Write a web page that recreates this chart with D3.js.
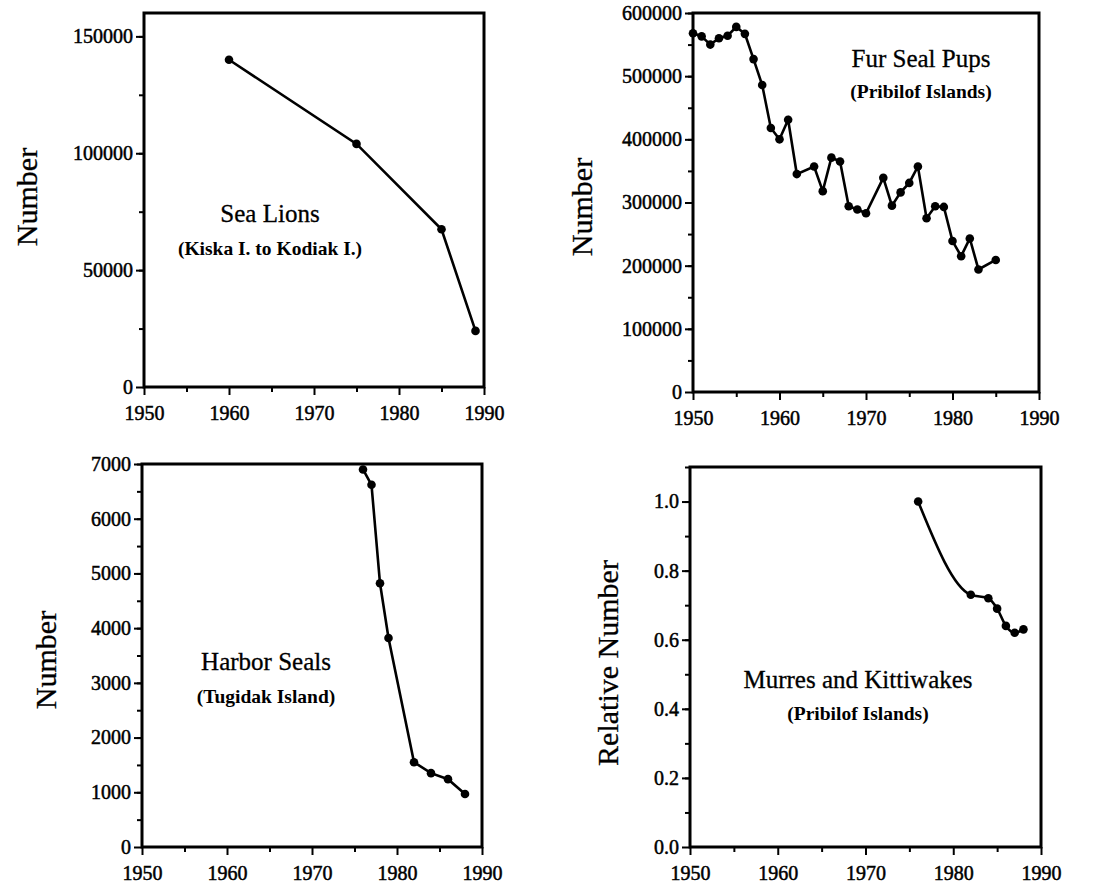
<html>
<head>
<meta charset="utf-8">
<title>Alaska populations</title>
<style>
  body { margin: 0; background: #fff; }
  svg text { font-family: "Liberation Serif", "Times New Roman", serif; fill: #000; }
</style>
</head>
<body>
<script src="https://d3js.org/d3.v7.min.js"></script>
<script>
// ---- data ----
var yearTicks = [1950, 1960, 1970, 1980, 1990];
var minorYears = [1955, 1965, 1975, 1985];

var seaLionYears = [1960, 1975, 1985, 1989];
var seaLionCounts = [140000, 104000, 67500, 24000];

var furSealYears = [1950, 1951, 1952, 1953, 1954, 1955, 1956, 1957, 1958, 1959, 1960, 1961, 1962,
                    1964, 1965, 1966, 1967, 1968, 1969, 1970, 1972, 1973, 1974, 1975, 1976,
                    1977, 1978, 1979, 1980, 1981, 1982, 1983, 1985];
var furSealPups = [568000, 563000, 550000, 560000, 564000, 578000, 567000, 527000, 486000, 418000, 400000, 431000, 345000,
                   357000, 318000, 371000, 365000, 294000, 289000, 283000, 339000, 295000, 316000, 331000, 357000,
                   275000, 294000, 293000, 239000, 215000, 243000, 194000, 209000];

var harborYears = [1976, 1977, 1978, 1979, 1982, 1984, 1986, 1988];
var harborCounts = [6900, 6620, 4820, 3820, 1550, 1350, 1240, 970];

var murreYears = [1976, 1982, 1984, 1985, 1986, 1987, 1988];
var murreRelative = [1.0, 0.73, 0.72, 0.69, 0.64, 0.62, 0.63];

var seaLionTicks = [0, 50000, 100000, 150000];
var furSealTicks = [0, 100000, 200000, 300000, 400000, 500000, 600000];
var harborTicks = [0, 1000, 2000, 3000, 4000, 5000, 6000, 7000];
var murreTicks = [0, 0.2, 0.4, 0.6, 0.8, 1.0];

var width = 1095, height = 888;
var svg = d3.select('body').append('svg').attr('width', width).attr('height', height);

var panels = [
  {years: seaLionYears, values: seaLionCounts, yMax: 160000, ticks: seaLionTicks, minor: 25000, fmt: 'd',
   left: 144, right: 484, top: 13, bottom: 387,
   title: 'Sea Lions', sub: '(Kiska I. to Kodiak I.)', tx: 270, ty: 222, sy: 255,
   ylabel: 'Number', lx: 26, ly: 197, curve: d3.curveLinear},
  {years: furSealYears, values: furSealPups, yMax: 600000, ticks: furSealTicks, minor: 50000, fmt: 'd',
   left: 693, right: 1039, top: 13, bottom: 392,
   title: 'Fur Seal Pups', sub: '(Pribilof Islands)', tx: 921, ty: 67, sy: 98,
   ylabel: 'Number', lx: 581, ly: 207, curve: d3.curveLinear},
  {years: harborYears, values: harborCounts, yMax: 7000, ticks: harborTicks, minor: 500, fmt: 'd',
   left: 142, right: 482, top: 464, bottom: 847,
   title: 'Harbor Seals', sub: '(Tugidak Island)', tx: 266, ty: 670, sy: 703,
   ylabel: 'Number', lx: 45, ly: 660, curve: d3.curveLinear},
  {years: murreYears, values: murreRelative, yMax: 1.1, ticks: murreTicks, minor: 0.1, fmt: '.1f',
   left: 690, right: 1041, top: 467, bottom: 847,
   title: 'Murres and Kittiwakes', sub: '(Pribilof Islands)', tx: 858, ty: 688, sy: 720,
   ylabel: 'Relative Number', lx: 607, ly: 663, curve: d3.curveMonotoneX}
];

function styleAxis(g) {
  g.select('.domain').remove();
  g.selectAll('line').attr('stroke', '#000').attr('stroke-width', 2);
  g.attr('font-family', '"Liberation Serif", serif').attr('font-size', 20);
  g.selectAll('text').attr('fill', '#000').attr('stroke', '#000').attr('stroke-width', 0.5);
}

panels.forEach(function(p) {
  var x = d3.scaleLinear().domain([1950, 1990]).range([p.left, p.right]);
  var y = d3.scaleLinear().domain([0, p.yMax]).range([p.bottom, p.top]);
  var g = svg.append('g');

  var minorY = d3.range(p.minor, p.yMax + 1e-9, p.minor);

  // minor ticks
  g.append('g').attr('transform', 'translate(0,' + p.bottom + ')')
    .call(d3.axisBottom(x).tickValues(minorYears).tickSize(5).tickFormat(''))
    .call(styleAxis);
  g.append('g').attr('transform', 'translate(' + p.left + ',0)')
    .call(d3.axisLeft(y).tickValues(minorY).tickSize(5).tickFormat(''))
    .call(styleAxis);

  // major ticks
  g.append('g').attr('transform', 'translate(0,' + p.bottom + ')')
    .call(d3.axisBottom(x).tickValues(yearTicks).tickSize(8).tickPadding(11).tickFormat(d3.format('d')))
    .call(styleAxis);
  g.append('g').attr('transform', 'translate(' + p.left + ',0)')
    .call(d3.axisLeft(y).tickValues(p.ticks).tickSize(8).tickPadding(3).tickFormat(d3.format(p.fmt)))
    .call(styleAxis);

  // frame
  g.append('rect')
    .attr('x', p.left).attr('y', p.top)
    .attr('width', p.right - p.left).attr('height', p.bottom - p.top)
    .attr('fill', 'none').attr('stroke', '#000').attr('stroke-width', 3);

  var pts = p.years.map(function(d, i) { return [d, p.values[i]]; });
  var line = d3.line().curve(p.curve)
    .x(function(d) { return x(d[0]); })
    .y(function(d) { return y(d[1]); });

  g.append('path').datum(pts)
    .attr('d', line)
    .attr('fill', 'none').attr('stroke', '#000').attr('stroke-width', 2.6);

  g.selectAll('circle.pt').data(pts).enter().append('circle')
    .attr('class', 'pt')
    .attr('cx', function(d) { return x(d[0]); })
    .attr('cy', function(d) { return y(d[1]); })
    .attr('r', 4.3)
    .attr('fill', '#000');

  g.append('text')
    .attr('x', p.tx).attr('y', p.ty)
    .attr('text-anchor', 'middle')
    .attr('font-size', 25)
    .attr('stroke', '#000').attr('stroke-width', 0.3)
    .text(p.title);
  g.append('text')
    .attr('x', p.tx).attr('y', p.sy)
    .attr('text-anchor', 'middle')
    .attr('font-size', 19.5)
    .attr('font-weight', 'bold')
    .text(p.sub);

  g.append('text')
    .attr('transform', 'translate(' + p.lx + ',' + p.ly + ') rotate(-90)')
    .attr('text-anchor', 'middle')
    .attr('dominant-baseline', 'central')
    .attr('font-size', 30)
    .attr('stroke', '#000').attr('stroke-width', 0.3)
    .text(p.ylabel);
});
</script>
</body>
</html>
